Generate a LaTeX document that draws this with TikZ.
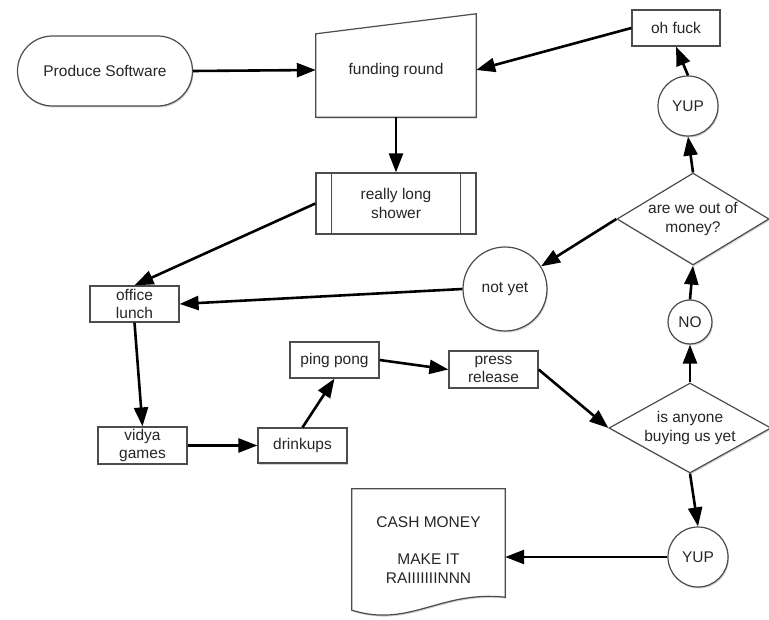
\documentclass[tikz,border=0pt]{standalone}
\usepackage{fontspec}
\setmainfont{Liberation Sans}
\usetikzlibrary{arrows.meta,shapes.geometric,shadows}

\tikzset{
	soft/.style={drop shadow={shadow xshift=1pt, shadow yshift=-1.5pt, fill=black, opacity=0.18}},
	box/.style={draw=black!70, line width=1.2pt, fill=white, soft, align=center, inner sep=2pt, minimum width=89pt, minimum height=36pt},
	bubble/.style={draw=black!70, line width=1.2pt, fill=white, soft, circle, inner sep=0pt},
	choice/.style={draw=black!70, line width=1.2pt, fill=white, soft, diamond, inner sep=0pt, align=center},
	outline/.style={draw=black!70, line width=1.2pt, fill=white, soft},
	flow/.style={-{Triangle[length=19pt,width=14pt]}, line width=2.6pt},
}

\begin{document}
\begin{tikzpicture}[x=1pt, y=-1pt, font=\fontsize{15.5}{18.5}\selectfont, text=black!85]
	\useasboundingbox (0,0) rectangle (769,620);
	% nodes
	\node[box, rounded corners=35pt, minimum width=175pt, minimum height=70pt] at (105,71) (prod) {Produce Software};
	\node[align=center, minimum width=160pt, minimum height=94pt] at (396,70) (fund) {};
	\draw[outline] ([yshift=-11pt]fund.north west) -- ([yshift=9pt]fund.north east) -- (fund.south east) -- (fund.south west) -- cycle;
	\node at (fund) {funding round};
	\node[box, minimum width=160pt, minimum height=61pt] at (396,203.5) (shower) {really long\\shower};
	\draw[outline] ([xshift=16pt]shower.north west) -- ([xshift=16pt]shower.south west);
	\draw[outline] ([xshift=-16pt]shower.north east) -- ([xshift=-16pt]shower.south east);
	\node[box] at (134.5,304) (lunch) {office\\lunch};
	\node[box, minimum height=35pt] at (142.5,445.5) (vidya) {vidya\\games};
	\node[box, minimum height=35pt] at (302.5,445.5) (drink) {drinkups};
	\node[box] at (334.5,360) (ping) {ping pong};
	\node[box, minimum height=37pt] at (493.5,369.5) (press) {press\\release};
	\node[choice, aspect=1.8, minimum width=162pt, minimum height=90pt] at (690,428) (buying) {is anyone\\buying us yet};
	\node[bubble, minimum size=44pt] at (690,322) (no) {NO};
	\node[choice, aspect=1.65, minimum width=152pt, minimum height=92pt] at (693,219) (money) {are we out of\\money?};
	\node[bubble, minimum size=60pt] at (688,106) (yuptop) {YUP};
	\node[box, minimum width=88pt] at (676,28) (fuck) {oh fuck};
	\node[bubble, minimum size=84pt] at (505,289) (notyet) {not yet};
	\node[bubble, minimum size=60pt] at (698,557) (yupbot) {YUP};
	\node[align=center, minimum width=153pt, minimum height=122pt] at (428.5,550) (cash) {};
	\draw[outline] (cash.north west) -- (cash.north east) -- ([yshift=14pt]cash.south east)
		.. controls ([xshift=-65pt,yshift=21pt]cash.south east) and ([xshift=58pt,yshift=-17pt]cash.south west) .. ([yshift=1pt]cash.south west) -- cycle;
	\node[align=center] at (cash) {CASH MONEY\\ \\MAKE IT\\RAIIIIIIINNN};
	% connectors
	\draw[flow] (prod.east) -- (fund.west);
	\draw[flow] (fuck.west) -- (fund.east);
	\draw[flow] (fund.south) -- (shower.north);
	\draw[flow] (shower.west) -- (lunch.north);
	\draw[flow] (notyet.west) -- (lunch.east);
	\draw[flow] (lunch.south) -- (vidya.north);
	\draw[flow] (vidya.east) -- (drink.west);
	\draw[flow] (drink.north) -- (ping.south);
	\draw[flow] (ping.east) -- (press.west);
	\draw[flow] (press.east) -- (buying.west);
	\draw[flow] (buying.north) -- (no.south);
	\draw[flow] (no.north) -- (money.south);
	\draw[flow] (money.north) -- (yuptop.south);
	\draw[flow] (yuptop.north) -- (fuck.south);
	\draw[flow] (money.west) -- (notyet);
	\draw[flow] (buying.south) -- (yupbot.north);
	\draw[flow] (yupbot.west) -- (yupbot.west -| cash.east);
\end{tikzpicture}
\end{document}
